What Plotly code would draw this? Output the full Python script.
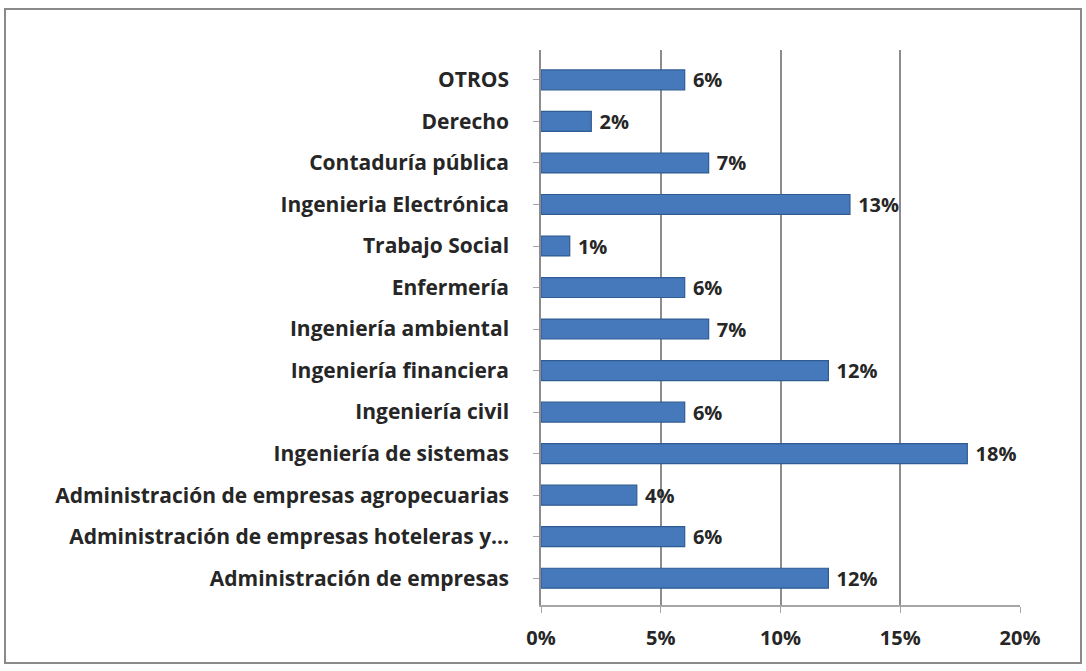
import plotly.graph_objects as go

categories = [
    "Administración de empresas",
    "Administración de empresas hoteleras y...",
    "Administración de empresas agropecuarias",
    "Ingeniería de sistemas",
    "Ingeniería civil",
    "Ingeniería financiera",
    "Ingeniería ambiental",
    "Enfermería",
    "Trabajo Social",
    "Ingenieria Electrónica",
    "Contaduría pública",
    "Derecho",
    "OTROS",
]
values = [12.0, 6.0, 4.0, 17.8, 6.0, 12.0, 7.0, 6.0, 1.2, 12.9, 7.0, 2.1, 6.0]
labels = ["12%", "6%", "4%", "18%", "6%", "12%", "7%", "6%", "1%", "13%", "7%", "2%", "6%"]
tick_vals = [0, 5, 10, 15, 20]
tick_text = ["0%", "5%", "10%", "15%", "20%"]

FONT = "Open Sans"
TXT = "#262626"
FS = 21

fig = go.Figure()
fig.add_trace(go.Bar(
    y=categories,
    x=values,
    orientation="h",
    text=labels,
    texttemplate="\u00a0%{text}",
    textposition="outside",
    constraintext="none",
    textfont=dict(family=FONT, size=FS - 1, color=TXT, weight="bold"),
    cliponaxis=False,
    marker=dict(color="#4679BB", line=dict(color="#2F5C93", width=1.2)),
    width=0.48,
    hoverinfo="skip",
))

W, H = 1086, 671
L, R, T, B = 541, 66, 50, 66
pw, ph = W - L - R, H - T - B

def px_x(p):
    return (p - L) / pw

def px_y(p):
    return (H - B - p) / ph

fig.update_layout(
    width=W, height=H,
    margin=dict(l=L, r=R, t=T, b=B),
    paper_bgcolor="white",
    plot_bgcolor="white",
    showlegend=False,
    font=dict(family=FONT, color=TXT),
    xaxis=dict(
        range=[0, 20],
        tickvals=tick_vals,
        ticktext=tick_text,
        tickfont=dict(family=FONT, size=FS - 1, color=TXT, weight="bold"),
        showgrid=True,
        gridcolor="#8C8C8C",
        gridwidth=2,
        zeroline=False,
        showline=True,
        linecolor="#A6A6A6",
        linewidth=1.5,
        ticks="outside",
        ticklen=6,
        tickcolor="#A6A6A6",
        ticklabelstandoff=8,
        fixedrange=True,
    ),
    yaxis=dict(
        tickfont=dict(family=FONT, size=FS, color=TXT, weight="bold"),
        showgrid=False,
        showline=True,
        linecolor="#8C8C8C",
        linewidth=1.5,
        ticks="outside",
        ticklen=6,
        tickcolor="#A6A6A6",
        ticklabelstandoff=20,
        range=[-0.645, 12.72],
        fixedrange=True,
    ),
    bargap=0.52,
    shapes=[
        dict(type="rect", xref="paper", yref="paper",
             x0=px_x(5), x1=px_x(1081), y0=px_y(663), y1=px_y(9),
             line=dict(color="#8A8A8A", width=2), layer="below"),
    ],
)

fig.write_html("out.html", config={"displayModeBar": False},
               post_script="document.body.style.margin='0';")
